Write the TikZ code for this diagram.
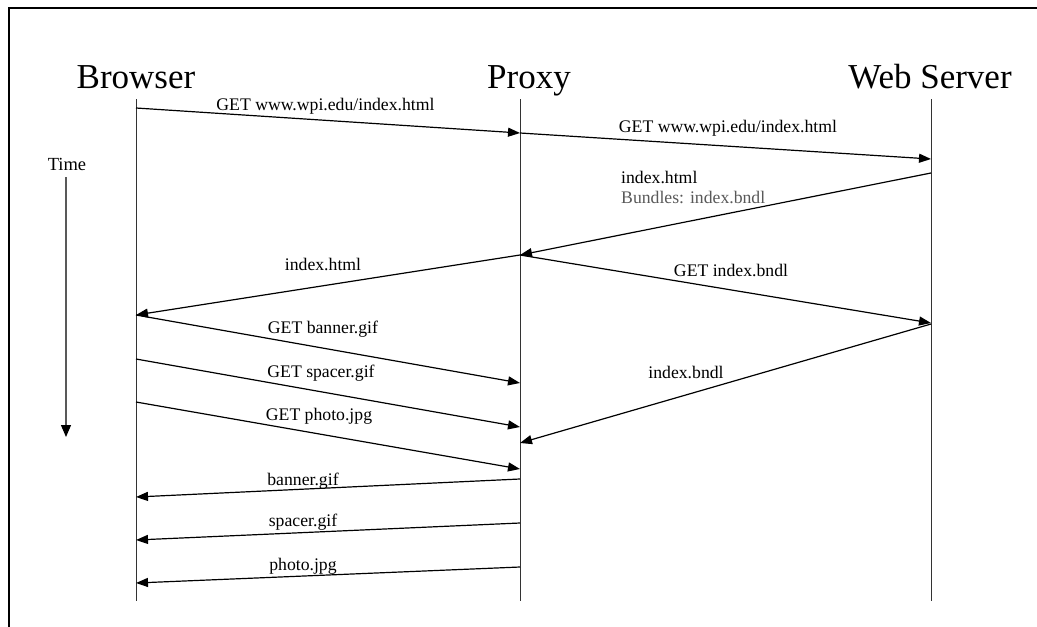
\documentclass[tikz,border=0pt]{standalone}
\usepackage{fontspec}
\setmainfont{Liberation Serif}
\usetikzlibrary{arrows.meta}
\begin{document}
\begin{tikzpicture}[x=1pt,y=-1pt,
  msg/.style={draw=black, line width=1.2pt, -{Triangle[length=12pt,width=9pt]}},
  life/.style={draw=black!80, line width=0.9pt},
  timearrow/.style={draw=black!65, line width=1.1pt, -{Triangle[length=12pt,width=10pt,color=black]}},
  title/.style={font=\fontsize{35}{40}\selectfont, anchor=base, inner sep=0pt},
  lbl/.style={font=\fontsize{17.7}{20}\selectfont, anchor=base, inner sep=0pt},
  lbll/.style={lbl, anchor=base west},
]
\useasboundingbox (0,0) rectangle (1037,627);
\draw[line width=1.8pt] (9,627) -- (9,8) -- (1037,8);

% titles
\node[title] (tB) at (136,88) {Browser};
\node[title] (tP) at (529,88) {Proxy};
\node[title] (tW) at (930,88) {Web Server};

% lifelines
\coordinate (Btop) at (136,99); \coordinate (Bbot) at (136,601);
\coordinate (Ptop) at (520,99); \coordinate (Pbot) at (520,601);
\coordinate (Wtop) at (931,99); \coordinate (Wbot) at (931,601);
\draw[life] (Btop) -- (Bbot);
\draw[life] (Ptop) -- (Pbot);
\draw[life] (Wtop) -- (Wbot);

% time
\node[lbl, font=\fontsize{18.5}{20}\selectfont] (time) at (67,170) {Time};
\coordinate (t1) at (66,177); \coordinate (t2) at (66,437);
\draw[timearrow] (t1) -- (t2);

% message endpoints
\coordinate (b1) at (136,108);  \coordinate (p1) at (520,133);
\coordinate (w2) at (931,159);
\coordinate (w3) at (931,173);  \coordinate (p3) at (520,255);
\coordinate (b4) at (136,315);
\coordinate (w5) at (931,323);
\coordinate (p6) at (520,383);
\coordinate (b7) at (136,359);  \coordinate (p7) at (520,427);
\coordinate (b8) at (136,402);  \coordinate (p8) at (520,469);
\coordinate (w9) at (931,324);  \coordinate (p9) at (520,443);
\coordinate (p10) at (520,479); \coordinate (b10) at (136,497);
\coordinate (p11) at (520,523); \coordinate (b11) at (136,540);
\coordinate (p12) at (520,567); \coordinate (b12) at (136,583);

\draw[msg] (b1) -- (p1);
\draw[msg] (p1) -- (w2);
\draw[msg] (w3) -- (p3);
\draw[msg] (p3) -- (b4);
\draw[msg] (p3) -- (w5);
\draw[msg] (b4) -- (p6);
\draw[msg] (b7) -- (p7);
\draw[msg] (b8) -- (p8);
\draw[msg] (w9) -- (p9);
\draw[msg] (p10) -- (b10);
\draw[msg] (p11) -- (b11);
\draw[msg] (p12) -- (b12);

% labels
\node[lbl] (l1) at (325.5,110) {GET www.wpi.edu/index.html};
\node[lbl] (l2) at (728,132) {GET www.wpi.edu/index.html};
\node[lbll] (l3) at (621,183) {index.html};
\node[lbll, text=black!65] (l3b) at (621,203) {Bundles: index.bndl};
\node[lbl] (l4) at (323,270) {index.html};
\node[lbl] (l5) at (731,276) {GET index.bndl};
\node[lbl] (l6) at (323,333) {GET banner.gif};
\node[lbl] (l7) at (321,377) {GET spacer.gif};
\node[lbl] (l8) at (319,420) {GET photo.jpg};
\node[lbl] (l9) at (686,378) {index.bndl};
\node[lbl] (l10) at (303,485) {banner.gif};
\node[lbl] (l11) at (303,526) {spacer.gif};
\node[lbl] (l12) at (303,570) {photo.jpg};
\end{tikzpicture}
\end{document}
